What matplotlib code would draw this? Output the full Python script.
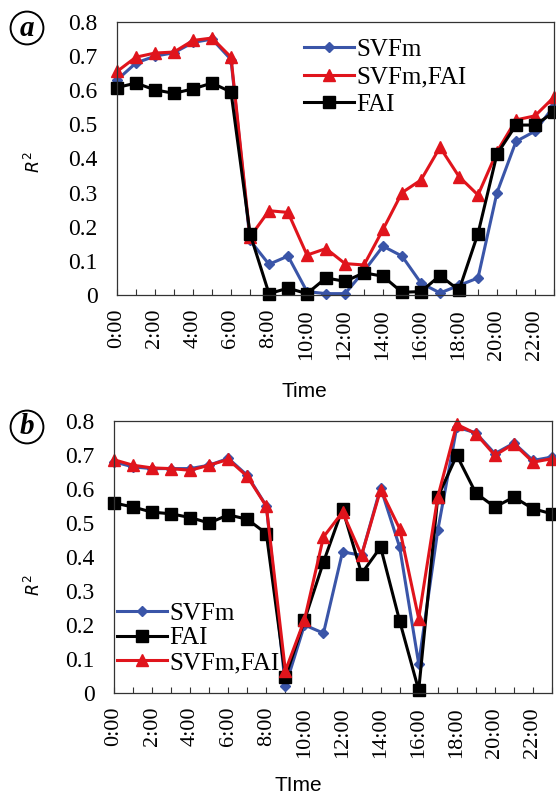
import matplotlib.pyplot as plt
import numpy as np

hours = np.arange(24)
tick_labels = [f"{h}:00" if h % 2 == 0 else "" for h in hours]

# panel a
a_svfm = [0.63, 0.68, 0.70, 0.71, 0.74, 0.75, 0.69, 0.16, 0.09, 0.114,
          0.01, 0.004, 0.004, 0.07, 0.143, 0.114, 0.035, 0.006, 0.028, 0.05,
          0.30, 0.45, 0.48, 0.554]
a_svfm_fai = [0.655, 0.697, 0.709, 0.712, 0.746, 0.753, 0.697, 0.17, 0.247, 0.242,
              0.117, 0.136, 0.092, 0.088, 0.192, 0.300, 0.337, 0.433, 0.347, 0.293,
              0.42, 0.513, 0.525, 0.58]
a_fai = [0.608, 0.621, 0.601, 0.591, 0.604, 0.621, 0.595, 0.180, 0.004, 0.02,
         0.004, 0.05, 0.04, 0.065, 0.055, 0.008, 0.01, 0.057, 0.014, 0.18,
         0.413, 0.498, 0.498, 0.536]

# panel b
b_svfm = [0.68, 0.665, 0.66, 0.66, 0.66, 0.67, 0.69, 0.64, 0.55, 0.02,
          0.20, 0.176, 0.415, 0.405, 0.604, 0.429, 0.086, 0.478, 0.782, 0.765,
          0.704, 0.735, 0.684, 0.694]
b_fai = [0.559, 0.547, 0.532, 0.527, 0.516, 0.50, 0.524, 0.511, 0.469, 0.047,
         0.214, 0.385, 0.542, 0.351, 0.429, 0.212, 0.008, 0.576, 0.699, 0.588,
         0.547, 0.576, 0.542, 0.527]
b_svfm_fai = [0.686, 0.67, 0.662, 0.66, 0.655, 0.67, 0.687, 0.637, 0.549, 0.065,
              0.215, 0.459, 0.532, 0.405, 0.598, 0.483, 0.219, 0.576, 0.79, 0.763,
              0.699, 0.733, 0.679, 0.689]

BLUE = "#3a55a8"
RED = "#e0141c"
BLACK = "#000000"
styles = {
    "SVFm": dict(color=BLUE, marker="D", markersize=5.5),
    "SVFm,FAI": dict(color=RED, marker="^", markersize=8.5),
    "FAI": dict(color=BLACK, marker="s", markersize=8),
}

serif = "Liberation Serif"
sans = "Liberation Sans"

fig = plt.figure(figsize=(5.56, 7.94), dpi=100)
W, H = 556, 794


def make_axes(l, t, r, b):
    return fig.add_axes([l / W, 1 - b / H, (r - l) / W, (b - t) / H])


def style_axes(ax, xlabel, xl_pos, yl_pos):
    ax.set_xlim(0, 23)
    ax.set_ylim(0, 0.8)
    ax.set_xticks(hours)
    ax.set_xticklabels(tick_labels, rotation=90, family=serif, fontsize=16)
    ax.set_yticks(np.arange(0, 0.81, 0.1))
    ax.set_yticklabels(["0"] + [f"{v:.1f}" for v in np.arange(0.1, 0.81, 0.1)],
                       family=serif, fontsize=17)
    ax.tick_params(axis="x", direction="in", length=4, width=0.8, pad=10, color="#333333")
    ax.tick_params(axis="y", length=0, pad=14)
    for sp in ax.spines.values():
        sp.set_color("#333333")
        sp.set_linewidth(0.9)
    ax.set_xlabel(xlabel, family=sans, fontsize=15)
    ax.set_ylabel("$R^2$", family=sans, fontsize=12.5)
    ax.xaxis.set_label_coords(*xl_pos)
    ax.yaxis.set_label_coords(*yl_pos)
    ax.xaxis.label.set_va("baseline")
    ax.yaxis.label.set_va("center")


def draw(ax, name, vals):
    ax.plot(hours, vals, label=name, lw=2.2, clip_on=False, **styles[name])


legend_kw = dict(frameon=False, prop=dict(family=serif, size=18), handlelength=2.0,
                 handletextpad=0.1, borderaxespad=0, borderpad=0)

ax1 = make_axes(117, 22, 554, 295)
draw(ax1, "SVFm", a_svfm)
draw(ax1, "SVFm,FAI", a_svfm_fai)
draw(ax1, "FAI", a_fai)
style_axes(ax1, "Time", (0.428, -0.372), (-0.192, 0.487))
ax1.legend(loc="upper left", bbox_to_anchor=(0.427, 0.94), labelspacing=0.2, **legend_kw)

ax2 = make_axes(114, 421, 552, 693)
draw(ax2, "SVFm", b_svfm)
draw(ax2, "FAI", b_fai)
draw(ax2, "SVFm,FAI", b_svfm_fai)
style_axes(ax2, "TIme", (0.42, -0.362), (-0.185, 0.397))
ax2.legend(loc="lower left", bbox_to_anchor=(0.007, 0.07), labelspacing=0.08, **legend_kw)

for letter, y in [("a", 28), ("b", 427)]:
    fig.text(27 / W, 1 - y / H, letter, family=serif, fontsize=21, fontweight="bold",
             style="italic", ha="center", va="center",
             bbox=dict(boxstyle="circle,pad=0.1", fc="white", ec="black", lw=1.4))

fig.savefig("out.png", dpi=100)
